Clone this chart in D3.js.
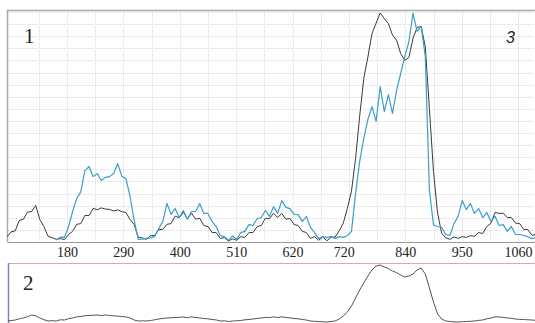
<!DOCTYPE html>
<html>
<head>
<meta charset="utf-8">
<script src="https://cdn.jsdelivr.net/npm/d3@7"></script>
<style>
  body { margin: 0; background: #fff; }
  svg { display: block; }
</style>
</head>
<body>
<div class="chart"></div>
<script>
// sampling positions along the x axis (every 8 units from 63)
const xStart = 63, xStep = 8;
const tickLabels = [180, 290, 400, 510, 620, 720, 840, 950, 1060];

const darkSeries = [
  2.1,4.2,4.6,8.9,9.4,12.3,12.6,15.1,9.3,6.4,
  2.4,1.8,1.1,1.4,1.0,3.1,4.4,7.3,7.6,11.0,
  10.9,13.9,13.3,14.1,13.6,13.5,12.8,13.3,12.5,12.2,
  9.3,7.2,2.0,1.7,1.1,2.6,2.7,5.1,5.2,7.3,
  7.6,10.7,10.0,12.3,9.6,11.9,9.4,9.8,6.8,6.4,
  3.9,3.9,1.5,1.8,0.4,1.3,0.7,2.2,1.9,3.9,
  3.9,6.4,6.8,9.8,9.6,11.9,10.1,11.8,9.4,9.7,
  7.2,6.8,4.4,3.9,1.5,2.2,0.7,2.1,0.5,2.0,
  2.0,4.6,7.8,13.9,21.0,34.5,52.0,67.6,76.4,86.1,
  90.4,94.6,92.3,90.2,85.5,83.3,77.8,75.0,76.2,84.1,
  88.6,89.0,80.6,55.1,29.0,11.8,3.6,1.7,1.1,2.1,
  1.5,2.2,1.9,2.6,2.4,3.9,3.5,6.4,7.7,12.2,
  11.8,11.9,10.1,10.1,7.8,7.6,5.2,5.1,2.8,3.0
];

const blueSeries = [
  null,null,null,null,null,null,null,null,null,null,
  null,null,0.8,2.0,1.9,6.4,12.6,17.9,20.8,29.5,
  31.2,27.0,28.3,25.4,26.7,27.0,28.3,32.4,27.1,26.2,
  18.8,8.9,1.1,1.2,1.5,1.7,2.3,5.6,8.5,15.9,
  11.4,13.8,10.1,13.0,9.4,12.6,12.6,15.9,11.8,11.8,
  8.5,6.4,2.7,2.2,0.7,2.5,1.1,3.9,4.4,7.2,
  6.8,9.7,10.1,13.0,10.6,14.6,11.8,17.1,14.3,13.8,
  11.4,11.3,8.5,10.6,6.0,3.9,1.4,2.2,1.9,2.2,
  1.5,2.2,1.9,2.6,4.4,20.0,33.3,42.7,50.6,55.9,
  49.8,64.2,53.9,60.9,53.1,62.6,69.6,76.6,82.8,94.4,
  87.0,89.0,76.6,21.5,7.0,6.4,6.0,3.1,2.7,7.6,
  10.6,17.1,13.4,15.9,11.8,13.8,10.1,12.2,8.5,10.6,
  6.8,7.2,4.4,6.4,3.1,3.1,2.7,2.2,1.4,1.8
];

const sumSeries = [
  9,9.4,10,11.2,12,13.3,15,14.2,12,10.3,
  9,9.3,9,10.2,10,11.3,12,13.2,13.5,14.3,
  14.5,14.8,15,14.4,15.1,14.5,14.2,13.9,13.5,13.1,
  12,10,9,9.2,9,9.5,10.2,11,11.6,12,
  12.2,12.5,12.7,13,12.4,13.1,12.5,12.1,11.5,11.2,
  10.5,10.1,9,9.2,8.5,9,9.2,9.5,10.2,10.5,
  11,11.6,12,12.6,12.4,13.1,12.5,13.2,12.5,12.1,
  11.5,11.2,10.5,10,9,8.7,8.5,8.2,8,8.5,
  9,11,14,18,24,32,40,47,54,60,
  64,65,63,61.4,59,57.3,55,53,54,56,
  60,62,56,42,28,16,11,9,8.5,8.2,
  8,8.3,8.5,8.7,9,9.6,10,11.2,12,13.1,
  13,12.6,12,11.7,11,10.6,10.5,10.2,10,9.6
];

const width = 535, height = 323;
const xs = darkSeries.map((d, i) => xStart + i * xStep);

const svg = d3.select(".chart").append("svg")
  .attr("width", width).attr("height", height)
  .attr("viewBox", [0, 0, width, height]);

const left = 7, right = 535, top1 = 10, bottom1 = 242;

const x = d3.scaleLinear().domain([63, 1093]).range([left, right]);
const y1 = d3.scaleLinear().domain([0, 95]).range([bottom1, 12]);
const y2 = d3.scaleLinear().domain([0, 65]).range([330, 265]);

// grid, top panel
const grid = svg.append("g").attr("stroke", "#e6e6e6").attr("stroke-width", 1);
grid.selectAll("line.h").data(d3.range(5, 96, 5)).join("line")
  .attr("x1", left).attr("x2", right)
  .attr("y1", d => Math.round(y1(d)) + 0.5).attr("y2", d => Math.round(y1(d)) + 0.5)
  .attr("stroke-dasharray", "3,1");
grid.selectAll("line.v").data(d3.range(125, 1093, 55)).join("line")
  .attr("x1", d => Math.round(x(d)) + 0.5).attr("x2", d => Math.round(x(d)) + 0.5)
  .attr("y1", top1).attr("y2", bottom1)
  .attr("stroke-dasharray", "3,1");

// panel 1 frame
svg.append("line").attr("x1", left).attr("x2", right).attr("y1", top1 + 0.5).attr("y2", top1 + 0.5)
  .attr("stroke", "#aaa").attr("stroke-width", 1.5);
svg.append("line").attr("x1", left + 0.5).attr("x2", left + 0.5).attr("y1", top1).attr("y2", bottom1)
  .attr("stroke", "#aaa").attr("stroke-width", 1.5);

const xAxis = svg.append("g")
  .attr("transform", `translate(0,${bottom1})`)
  .call(d3.axisBottom(x).tickValues(tickLabels).tickSize(0).tickPadding(5).tickFormat(d => d));
xAxis.select(".domain").attr("stroke", "#999").attr("stroke-width", 1.2);
xAxis.selectAll("text")
  .attr("font-family", "Liberation Serif, Times New Roman, serif")
  .attr("font-size", 14).attr("fill", "#222");

const line1 = d3.line()
  .defined(d => d[1] != null)
  .x(d => x(d[0]))
  .y(d => y1(d[1]));

svg.append("defs").append("clipPath").attr("id", "clip1")
  .append("rect").attr("x", left).attr("y", top1).attr("width", right - left).attr("height", bottom1 - top1);
svg.select("defs").append("clipPath").attr("id", "clip2")
  .append("rect").attr("x", 8).attr("y", 263).attr("width", right - 8).attr("height", 60);

const plot = svg.append("g").attr("clip-path", "url(#clip1)");
plot.append("path")
  .datum(xs.map((v, i) => [v, darkSeries[i]]))
  .attr("fill", "none").attr("stroke", "#3a3a3a").attr("stroke-width", 1)
  .attr("stroke-linejoin", "round")
  .attr("d", line1);
plot.append("path")
  .datum(xs.map((v, i) => [v, blueSeries[i]]))
  .attr("fill", "none").attr("stroke", "#3a9fca").attr("stroke-width", 1.2)
  .attr("stroke-linejoin", "round")
  .attr("d", line1);

svg.append("text").attr("x", 24).attr("y", 43)
  .attr("font-family", "Liberation Serif, serif").attr("font-size", 21).attr("fill", "#222")
  .text("1");
svg.append("text").attr("x", 506).attr("y", 43)
  .attr("font-family", "Liberation Sans, Arial, sans-serif").attr("font-style", "italic")
  .attr("font-size", 16).attr("fill", "#222")
  .text("3");

// panel 2
svg.append("line").attr("x1", 8).attr("x2", right).attr("y1", 263.5).attr("y2", 263.5)
  .attr("stroke", "#e2a6a6").attr("stroke-width", 1.2);
svg.append("line").attr("x1", 8.5).attr("x2", 8.5).attr("y1", 263).attr("y2", height)
  .attr("stroke", "#8c7fb4").attr("stroke-width", 1.5);

const line2 = d3.line().x(d => x(d[0])).y(d => y2(d[1]));
svg.append("g").attr("clip-path", "url(#clip2)")
  .append("path")
  .datum(xs.map((v, i) => [v, sumSeries[i]]))
  .attr("fill", "none").attr("stroke", "#5a5050").attr("stroke-width", 1)
  .attr("d", line2);

svg.append("text").attr("x", 23).attr("y", 290)
  .attr("font-family", "Liberation Serif, serif").attr("font-size", 21).attr("fill", "#222")
  .text("2");
</script>
</body>
</html>
